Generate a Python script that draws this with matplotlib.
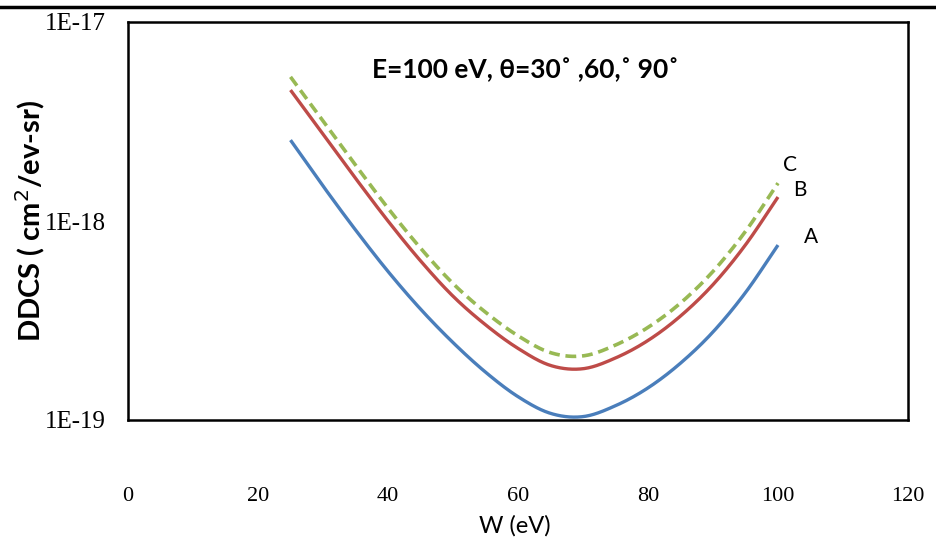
import numpy as np
import matplotlib
matplotlib.use("Agg")
import matplotlib.pyplot as plt
from matplotlib.ticker import FixedLocator, FixedFormatter, NullLocator

# Ejected electron energy W (eV)
w_ev = [25, 30, 35, 40, 45, 50, 55, 60, 65, 70, 75, 80, 85, 90, 95, 100]

# DDCS (cm^2/eV-sr) for the three emission angles
ddcs_a = [2.55e-18, 1.50e-18, 9.02e-19, 5.58e-19, 3.61e-19, 2.45e-19, 1.74e-19,
          1.31e-19, 1.08e-19, 1.04e-19, 1.18e-19, 1.45e-19, 1.93e-19,
          2.77e-19, 4.37e-19, 7.57e-19]
ddcs_b = [4.55e-18, 2.73e-18, 1.64e-18, 1.0e-18, 6.31e-19, 4.19e-19, 3.01e-19,
          2.29e-19, 1.88e-19, 1.81e-19, 2.05e-19, 2.51e-19, 3.33e-19,
          4.79e-19, 7.59e-19, 1.32e-18]
ddcs_c = [5.30e-18, 3.18e-18, 1.91e-18, 1.16e-18, 7.31e-19, 4.85e-19, 3.48e-19,
          2.65e-19, 2.18e-19, 2.10e-19, 2.38e-19, 2.92e-19, 3.87e-19,
          5.58e-19, 8.87e-19, 1.55e-18]

x_ticks = [0, 20, 40, 60, 80, 100, 120]
y_ticks = [1e-19, 1e-18, 1e-17]
y_tick_labels = ["1E-19", "1E-18", "1E-17"]


def smooth_path(xs, ys, n=24):
    """Catmull-Rom path through the points (in log y), like a smoothed line."""
    px = np.asarray(xs, float)
    py = np.log10(np.asarray(ys, float))
    P = np.column_stack([px, py])
    P = np.vstack([2 * P[0] - P[1], P, 2 * P[-1] - P[-2]])
    out = []
    t = np.linspace(0, 1, n, endpoint=False)[:, None]
    for i in range(1, len(P) - 2):
        p0, p1, p2, p3 = P[i - 1], P[i], P[i + 1], P[i + 2]
        seg = 0.5 * ((2 * p1) + (-p0 + p2) * t + (2 * p0 - 5 * p1 + 4 * p2 - p3) * t ** 2
                     + (-p0 + 3 * p1 - 3 * p2 + p3) * t ** 3)
        out.append(seg)
    out.append(P[-2][None, :])
    out = np.vstack(out)
    return out[:, 0], 10 ** out[:, 1]


fig = plt.figure(figsize=(9.36, 5.48), dpi=100)
ax = fig.add_axes([128 / 936, 1 - 420 / 548, 780 / 936, 398 / 548])

for ys, col, style, lw in [(ddcs_a, "#4A7EBB", "-", 2.4),
                           (ddcs_b, "#BE4B48", "-", 2.4),
                           (ddcs_c, "#98B954", (0, (3, 1.6)), 2.6)]:
    sx, sy = smooth_path(w_ev, ys)
    ax.plot(sx, sy, color=col, lw=lw, ls=style, solid_capstyle="butt")

ax.set_yscale("log")
ax.set_xlim(0, 120)
ax.set_ylim(1e-19, 1e-17)
ax.xaxis.set_major_locator(FixedLocator(x_ticks))
ax.yaxis.set_major_locator(FixedLocator(y_ticks))
ax.yaxis.set_major_formatter(FixedFormatter(y_tick_labels))
ax.yaxis.set_minor_locator(NullLocator())
ax.tick_params(axis="both", length=0)
ax.tick_params(axis="x", pad=48)
ax.tick_params(axis="y", pad=16)
for lab in ax.get_xticklabels():
    lab.set_fontfamily("Liberation Serif")
    lab.set_fontsize(16)
for lab in ax.get_yticklabels():
    lab.set_fontfamily("Liberation Serif")
    lab.set_fontsize(18)

for sp in ax.spines.values():
    sp.set_linewidth(1.8)
    sp.set_color("black")

fig.text(515 / 936, 1 - 526 / 548, "W (eV)", fontsize=17, family="Lato",
         ha="center", va="center")
fig.text(30 / 936, 1 - 221 / 548, "DDCS ( cm$^2$/ev-sr)", fontsize=21, family="Lato",
         fontweight="bold", rotation=90, ha="center", va="center")

ax.text(0.51, 0.88, "E=100 eV, θ=30˚ ,60,˚ 90˚", transform=ax.transAxes,
        ha="center", va="center", fontsize=19, family="Lato", fontweight="bold")

ax.text(101.8, 1.91e-18, "C", fontsize=15, family="Lato", ha="center", va="center")
ax.text(103.4, 1.43e-18, "B", fontsize=15, family="Lato", ha="center", va="center")
ax.text(105.1, 8.3e-19, "A", fontsize=15, family="Lato", ha="center", va="center")

# rule across the top of the figure
fig.add_artist(plt.Line2D([0, 1], [1 - 7 / 548, 1 - 7 / 548], color="black",
                          lw=2.5, transform=fig.transFigure))

fig.savefig("out.png", dpi=100)
